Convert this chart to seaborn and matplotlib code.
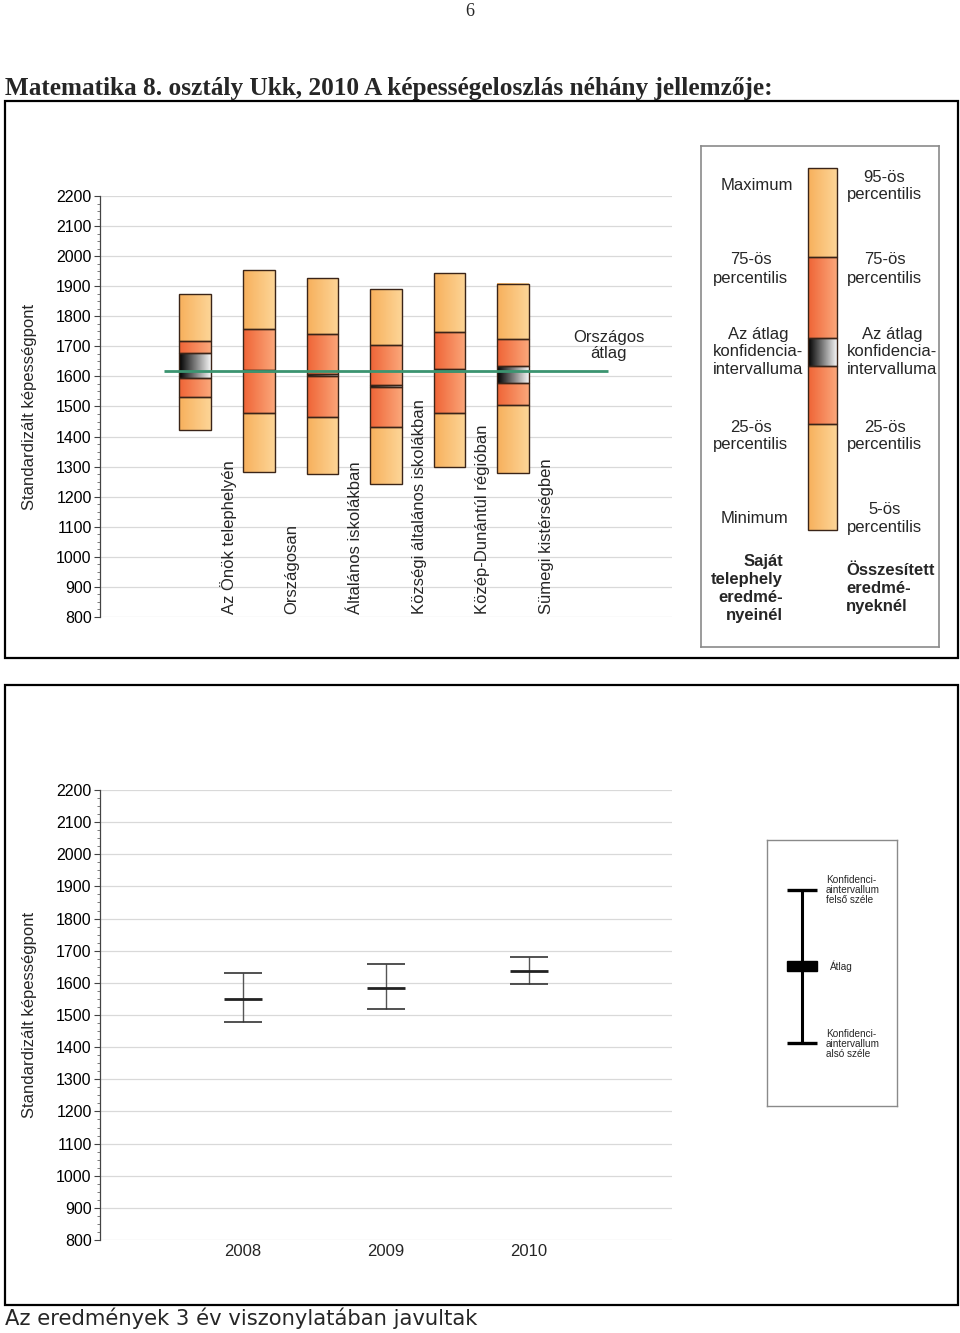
import numpy as np
import matplotlib
matplotlib.use("Agg")
import matplotlib.pyplot as plt
from matplotlib.patches import Rectangle
from matplotlib.colors import to_rgb
import seaborn as sns

# ---------------- data ----------------
categories = ["Az Önök telephelyén", "Országosan", "Általános iskolákban",
              "Községi általános iskolákban", "Közép-Dunántúl régióban",
              "Sümegi kistérségben"]
p_low = [1421, 1282, 1275, 1242, 1298, 1278]      # minimum / 5th percentile
p25 = [1531, 1478, 1466, 1431, 1478, 1505]
ci_low = [1594, 1617, 1602, 1564, 1619, 1579]
ci_high = [1678, 1623, 1608, 1570, 1625, 1635]
p75 = [1718, 1759, 1741, 1706, 1747, 1725]
p_high = [1873, 1953, 1926, 1890, 1943, 1908]     # maximum / 95th percentile
national_mean = 1618

years = ["2008", "2009", "2010"]
year_mean = [1550, 1583, 1637]
year_ci_low = [1477, 1518, 1597]
year_ci_high = [1630, 1660, 1679]

yticks = list(range(800, 2201, 100))

# ---------------- style ----------------
sns.set_theme(style="white")
plt.rcParams['font.family'] = ['Liberation Sans', 'DejaVu Sans']

W, H = 960, 1333
fig = plt.figure(figsize=(W / 100, H / 100), dpi=100)


def fr(x0, y0, x1, y1):
    """pixel box -> figure fraction rect"""
    return [x0 / W, 1 - y1 / H, (x1 - x0) / W, (y1 - y0) / H]


LIGHT = ("#f7b05c", "#fdd597")
DARK = ("#ef6436", "#fba77a")
CI = ("#000000", "#f4f4f4")


def grad(ax, x0, x1, y0, y1, cols, z=2):
    c0, c1 = np.array(to_rgb(cols[0])), np.array(to_rgb(cols[1]))
    t = np.linspace(0, 1, 64)[None, :, None]
    img = c0 + (c1 - c0) * t
    ax.imshow(img, extent=[x0, x1, y0, y1], aspect='auto', zorder=z,
              interpolation='bilinear')
    ax.add_patch(Rectangle((x0, min(y0, y1)), x1 - x0, abs(y1 - y0),
                           fill=False, ec="#3a2418", lw=1.0, zorder=z + 0.1))


def frame(x0, y0, x1, y1, lw=1.6, color="black"):
    fig.patches.append(Rectangle((x0 / W, 1 - y1 / H), (x1 - x0) / W, (y1 - y0) / H,
                                 transform=fig.transFigure, fill=False,
                                 ec=color, lw=lw))


def style_yaxis(ax):
    ax.set_ylim(800, 2200)
    ax.set_yticks(yticks)
    ax.set_yticks(np.arange(800, 2201, 25), minor=True)
    ax.tick_params(axis='y', which='major', left=True, length=4, width=0.8,
                   color="#444444", labelsize=11.5, pad=2, labelcolor="black")
    ax.tick_params(axis='y', which='minor', left=True, length=2.5, width=0.6,
                   color="#666666")
    for s in ["top", "right", "bottom"]:
        ax.spines[s].set_visible(False)
    ax.spines["left"].set_color("#444444")
    ax.spines["left"].set_linewidth(0.9)
    ax.grid(axis='y', color="#d9d9d9", lw=0.9, zorder=0)
    ax.set_axisbelow(True)
    ax.set_facecolor("white")


# page number and title
fig.text(470 / W, 1 - 11 / H, "6", ha='center', va='center', fontsize=13,
         family='Liberation Serif')
fig.text(5 / W, 1 - 89 / H,
         "Matematika 8. osztály Ukk, 2010 A képességeloszlás néhány jellemzője:",
         ha='left', va='center', fontsize=18.2, family='Liberation Serif',
         weight='bold')

frame(5, 101, 958, 658)
frame(5, 685, 958, 1305)

# ---------------- top chart ----------------
ax = fig.add_axes(fr(100, 196, 672, 617))
style_yaxis(ax)
ax.set_xlim(-1.5, 7.5)
ax.set_xticks([])
bw = 0.5
for i in range(len(categories)):
    x0, x1 = i - bw / 2, i + bw / 2
    grad(ax, x0, x1, p_low[i], p25[i], LIGHT)
    grad(ax, x0, x1, p25[i], ci_low[i], DARK)
    grad(ax, x0, x1, ci_low[i], ci_high[i], CI)
    grad(ax, x0, x1, ci_high[i], p75[i], DARK)
    grad(ax, x0, x1, p75[i], p_high[i], LIGHT)
    ax.text(i + 0.52, 0.008, categories[i], transform=ax.get_xaxis_transform(),
            rotation=90, ha='center', va='bottom', fontsize=12)
ax.hlines(national_mean, -0.5, 6.5, color="#3b9470", lw=2, zorder=4)
ax.text(6.5, 1704, "Országos\nátlag", ha='center', va='center', fontsize=12,
        linespacing=1.1)
ax.set_xlim(-1.5, 7.5)
ax.set_ylim(800, 2200)
fig.text(30 / W, 1 - 407 / H, "Standardizált képességpont", rotation=90,
         ha='center', va='center', fontsize=12)

# legend panel (top)
lg = fig.add_axes(fr(701, 146, 939, 647))
lg.set_xlim(701, 939)
lg.set_ylim(647, 146)
lg.set_xticks([])
lg.set_yticks([])
for s in lg.spines.values():
    s.set_color("#8a8a8a")
    s.set_linewidth(1.2)
bx0, bx1 = 808, 837
grad(lg, bx0, bx1, 530, 424, LIGHT)
grad(lg, bx0, bx1, 424, 366, DARK)
grad(lg, bx0, bx1, 366, 338, CI)
grad(lg, bx0, bx1, 338, 257, DARK)
grad(lg, bx0, bx1, 257, 168, LIGHT)
lg.set_xlim(701, 939)
lg.set_ylim(647, 146)
fs = 12
ls = 1.25
left_txt = [(721, 186, "Maximum"), (713, 269, "75-ös\npercentilis"),
            (713, 352, "Az átlag\nkonfidencia-\nintervalluma"),
            (713, 436, "25-ös\npercentilis"), (721, 519, "Minimum")]
right_txt = [(186, "95-ös\npercentilis"), (269, "75-ös\npercentilis"),
             (352, "Az átlag\nkonfidencia-\nintervalluma"),
             (436, "25-ös\npercentilis"), (519, "5-ös\npercentilis")]
for x, y, t in left_txt:
    lg.text(x, y, t, ha='left', va='center', multialignment='center',
            fontsize=fs, linespacing=ls)
for y, t in right_txt:
    lg.text(847, y, t, ha='left', va='center', multialignment='center',
            fontsize=fs, linespacing=ls)
lg.text(783, 589, "Saját\ntelephely\neredmé-\nnyeinél", ha='right', va='center',
        fontsize=fs, weight='bold', linespacing=ls)
lg.text(846, 589, "Összesített\neredmé-\nnyeknél", ha='left', va='center',
        fontsize=fs, weight='bold', linespacing=ls)

# ---------------- bottom chart ----------------
ax2 = fig.add_axes(fr(100, 790, 672, 1240))
style_yaxis(ax2)
ax2.set_xlim(-1, 3)
xs = np.arange(len(years))
cap = 0.13
ax2.vlines(xs, year_ci_low, year_ci_high, color="#555555", lw=1.0, zorder=3)
ax2.hlines(year_ci_low, xs - cap, xs + cap, color="#333333", lw=1.2, zorder=3)
ax2.hlines(year_ci_high, xs - cap, xs + cap, color="#333333", lw=1.2, zorder=3)
sns.scatterplot(x=xs, y=year_mean, marker='_', s=27 ** 2, linewidth=2.0,
                color="#222222", ax=ax2, zorder=4)
ax2.set_xticks(xs)
ax2.set_xticklabels(years)
ax2.tick_params(axis='x', bottom=False, labelsize=12, pad=-3)
ax2.set_xlim(-1, 3)
ax2.set_ylim(800, 2200)
fig.text(30 / W, 1 - 1015 / H, "Standardizált képességpont", rotation=90,
         ha='center', va='center', fontsize=12)

# legend panel (bottom)
lg2 = fig.add_axes(fr(767, 840, 897, 1106))
lg2.set_xlim(767, 897)
lg2.set_ylim(1106, 840)
lg2.set_xticks([])
lg2.set_yticks([])
for s in lg2.spines.values():
    s.set_color("#8a8a8a")
    s.set_linewidth(1.0)
lg2.vlines(802, 890, 1043, color="black", lw=2.2)
lg2.hlines([890, 1043], 787, 817, color="black", lw=2.4)
lg2.add_patch(Rectangle((787, 961), 30, 10, color="black"))
fs2 = 7.2
lg2.text(826, 890, "Konfidenci-\naintervallum\nfelső széle", ha='left',
         va='center', fontsize=fs2, linespacing=1.05)
lg2.text(830, 966, "Átlag", ha='left', va='center', fontsize=fs2)
lg2.text(826, 1044, "Konfidenci-\naintervallum\nalsó széle", ha='left',
         va='center', fontsize=fs2, linespacing=1.05)

fig.text(5 / W, 1 - 1318 / H, "Az eredmények 3 év viszonylatában javultak",
         ha='left', va='center', fontsize=15.2, family='DejaVu Sans')

fig.savefig("out.png", dpi=100)
